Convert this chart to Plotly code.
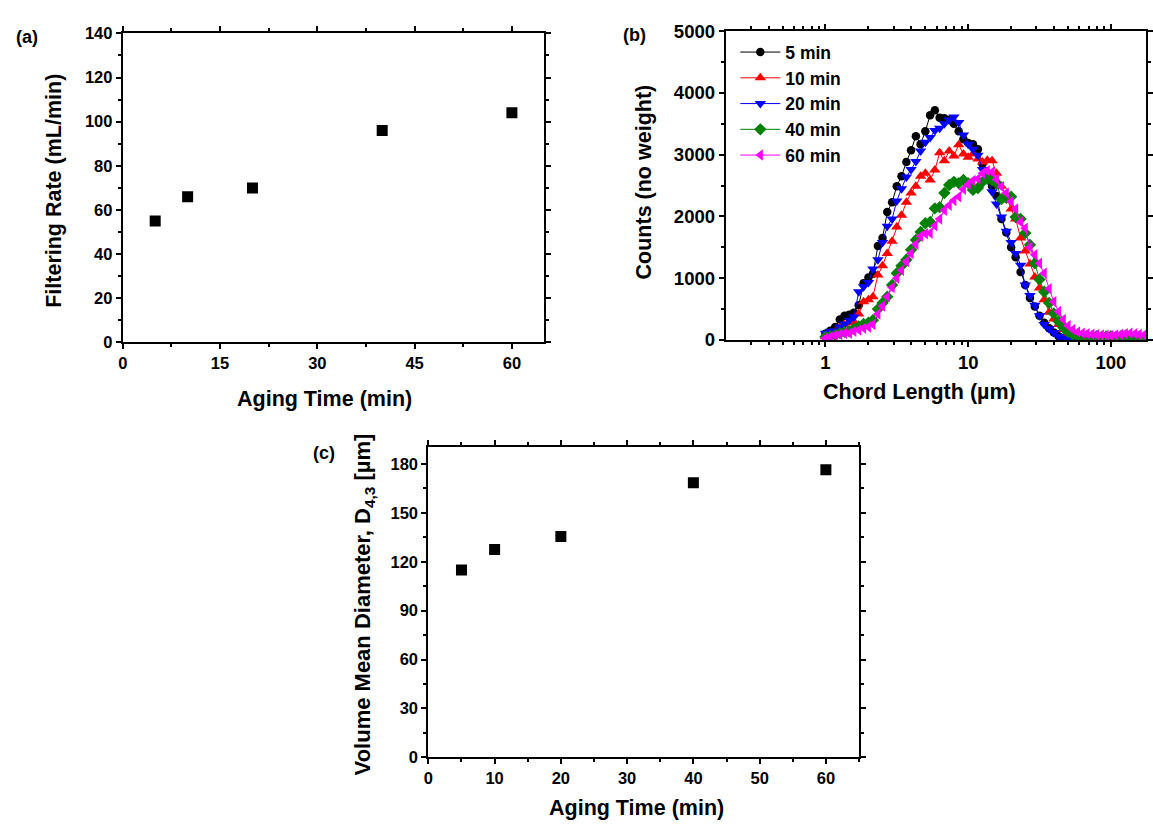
import plotly.graph_objects as go

# ---------------- data ----------------
aging_time = [5, 10, 20, 40, 60]
filtering_rate = [55, 66, 70, 96, 104]
d43_um = [115, 127.5, 135.5, 168.5, 176.5]

chord_length = [1.00, 1.08, 1.17, 1.26, 1.36, 1.47, 1.58, 1.71, 1.85, 2.00,
                2.15, 2.33, 2.51, 2.71, 2.93, 3.16, 3.41, 3.69, 3.98, 4.30,
                4.64, 5.01, 5.41, 5.84, 6.31, 6.81, 7.36, 7.94, 8.58, 9.26,
                10.0, 10.8, 11.7, 12.6, 13.6, 14.7, 15.8, 17.1, 18.5, 20.0,
                21.5, 23.3, 25.1, 27.1, 29.3, 31.6, 34.1, 36.9, 39.8, 43.0,
                46.4, 50.1, 54.1, 58.4, 63.1, 68.1, 73.6, 79.4, 85.8, 92.6,
                100, 108, 117, 126, 136, 147, 158, 171, 185, 200, 215]

counts_5min = [100, 150, 210, 330, 390, 410, 440, 560, 920, 1010,
               1070, 1520, 1650, 2070, 2230, 2490, 2650, 2880, 3070, 3300,
               3170, 3380, 3640, 3720, 3600, 3590, 3560, 3500, 3380, 3250,
               3190, 3170, 3090, 2850, 2700, 2490, 2330, 1960, 1740, 1500,
               1340, 1100, 890, 680, 540, 390, 280, 190, 120, 60,
               25, 12, 8, 5, 5, 4, 6, 3, 5, 4,
               6, 5, 4, 6, 5, 4, 5, 3, 4, 5, 4]
counts_10min = [50, 90, 130, 200, 240, 280, 300, 420, 620, 650,
                700, 1050, 1200, 1400, 1600, 1830, 2020, 2230, 2380, 2490,
                2650, 2700, 2590, 2750, 3030, 2900, 3060, 2980, 3160, 3010,
                2960, 3010, 2930, 2880, 2910, 2900, 2700, 2490, 2330, 2120,
                1960, 1650, 1440, 1230, 1020, 840, 650, 450, 340, 250,
                170, 105, 75, 52, 45, 40, 50, 45, 55, 60,
                50, 55, 60, 70, 65, 55, 60, 50, 45, 40, 40]
counts_20min = [110, 140, 150, 210, 260, 320, 370, 780, 860, 930,
                1150, 1300, 1580, 1840, 1960, 2250, 2450, 2640, 2760, 2890,
                3060, 3200, 3280, 3390, 3430, 3500, 3560, 3610, 3520, 3320,
                3170, 3090, 2990, 2760, 2600, 2400, 2200, 1990, 1760, 1580,
                1400, 1210, 890, 720, 560, 390, 250, 180, 120, 60,
                30, 12, 6, 4, 3, 2, 3, 2, 3, 2,
                3, 2, 3, 2, 2, 3, 2, 3, 2, 2, 2]
counts_40min = [50, 60, 80, 110, 130, 140, 180, 220, 260, 280,
                320, 500, 600, 700, 890, 1080, 1200, 1300, 1460, 1620,
                1750, 1890, 1910, 2130, 2150, 2380, 2510, 2560, 2540, 2590,
                2540, 2430, 2460, 2560, 2610, 2590, 2540, 2280, 2300, 2320,
                1990, 1960, 1730, 1540, 1240, 980, 780, 600, 430, 300,
                200, 130, 90, 70, 60, 65, 55, 60, 50, 55,
                60, 50, 55, 60, 50, 45, 50, 40, 45, 40, 35]
counts_60min = [30, 50, 70, 90, 110, 110, 140, 160, 190, 210,
                250, 420, 550, 700, 850, 1000, 1130, 1270, 1400, 1550,
                1680, 1720, 1730, 1850, 1960, 2100, 2180, 2260, 2320, 2440,
                2520, 2580, 2610, 2700, 2740, 2720, 2600, 2480, 2380, 2240,
                2120, 1910, 1810, 1500, 1380, 1240, 1080, 830, 620, 460,
                330, 230, 170, 130, 110, 100, 90, 85, 80, 75,
                70, 80, 90, 100, 110, 100, 90, 80, 70, 60, 55]

series_names = ["5 min", "10 min", "20 min", "40 min", "60 min"]
series_counts = [counts_5min, counts_10min, counts_20min, counts_40min, counts_60min]
series_colors = ["#000000", "#ff0000", "#0000ff", "#008000", "#ff00ff"]
series_symbols = ["circle", "triangle-up", "triangle-down", "diamond", "triangle-left"]
series_sizes = [8.5, 10, 10, 9.5, 10]

# ---------------- figure ----------------
W, H = 1153, 828
FONT = "Arial, Liberation Sans, Helvetica, sans-serif"

fig = go.Figure()

fig.add_trace(go.Scatter(x=aging_time, y=filtering_rate, mode="markers",
                         marker=dict(symbol="square", size=11, color="black"),
                         xaxis="x", yaxis="y", showlegend=False))

for name, cnt, col, sym, sz in zip(series_names, series_counts, series_colors,
                                   series_symbols, series_sizes):
    fig.add_trace(go.Scatter(x=chord_length, y=cnt, mode="lines+markers", name=name,
                             line=dict(color=col, width=1),
                             marker=dict(symbol=sym, size=sz, color=col, line=dict(width=0)),
                             xaxis="x2", yaxis="y2"))

fig.add_trace(go.Scatter(x=aging_time, y=d43_um, mode="markers",
                         marker=dict(symbol="square", size=11, color="black"),
                         xaxis="x3", yaxis="y3", showlegend=False))


def px_x(p):
    return p / W


def px_y(p):
    return 1 - p / H


def axstyle(size=16):
    return dict(showline=True, linewidth=2, linecolor="black", mirror="allticks",
                ticks="outside", ticklen=5, tickwidth=1.5, tickcolor="black",
                showgrid=False, zeroline=False,
                tickfont=dict(family=FONT, size=size, color="black", weight="bold"))


minor_small = dict(ticks="outside", ticklen=3, tickwidth=1.5, tickcolor="black", showgrid=False)

log_minor = [0.3, 0.4, 0.5, 0.6, 0.7, 0.8, 0.9, 2, 3, 4, 5, 6, 7, 8, 9,
             20, 30, 40, 50, 60, 70, 80, 90, 200]

fig.update_layout(
    width=W, height=H, margin=dict(l=0, r=0, t=0, b=0),
    paper_bgcolor="white", plot_bgcolor="white",
    xaxis=dict(**axstyle(16.5), domain=[px_x(119), px_x(545)], range=[0, 65],
               tickvals=[0, 15, 30, 45, 60], anchor="y",
               minor=dict(**minor_small, dtick=7.5, tick0=0)),
    yaxis=dict(**axstyle(16.5), domain=[px_y(340), px_y(23)], range=[0, 140],
               dtick=20, anchor="x",
               minor=dict(**minor_small, dtick=10, tick0=0)),
    xaxis2=dict(**axstyle(18.5), type="log", domain=[px_x(728.3), 1.0],
                range=[-0.699, 2.246], tickvals=[1, 10, 100], ticktext=["1", "10", "100"],
                anchor="y2",
                minor=dict(**minor_small, tickvals=log_minor)),
    yaxis2=dict(**axstyle(18.5), domain=[px_y(337.5), px_y(20.7)], range=[0, 5000],
                dtick=1000, anchor="x2",
                minor=dict(**minor_small, dtick=500, tick0=0)),
    xaxis3=dict(**axstyle(16.5), domain=[px_x(427.8), px_x(863)], range=[0, 65],
                dtick=10, anchor="y3",
                minor=dict(**minor_small, dtick=5, tick0=0)),
    yaxis3=dict(**axstyle(16.5), domain=[px_y(765.7), px_y(447.3)], range=[0, 190.5],
                tickvals=[0, 30, 60, 90, 120, 150, 180], anchor="x3",
                minor=dict(**minor_small, dtick=15, tick0=0)),
    legend=dict(x=px_x(738), y=px_y(23.8), xanchor="left", yanchor="top",
                bgcolor="rgba(0,0,0,0)", borderwidth=0, itemwidth=40,
                font=dict(family=FONT, size=17.5, color="black", weight="bold"),
                tracegroupgap=0, itemsizing="trace"),
)

ann_font_lab = dict(family=FONT, size=18, color="black", weight="bold")


def title_font(sz):
    return dict(family=FONT, size=sz, color="black", weight="bold")


annotations = [
    # panel labels
    dict(text="(a)", x=px_x(9), y=px_y(26.7), xanchor="left", yanchor="middle", font=ann_font_lab),
    dict(text="(b)", x=px_x(622.8), y=px_y(25), xanchor="left", yanchor="middle", font=ann_font_lab),
    dict(text="(c)", x=px_x(335), y=px_y(453.5), xanchor="right", yanchor="middle", font=ann_font_lab),
    # axis titles (a)
    dict(text="Aging Time (min)", x=px_x(323), y=px_y(398), xanchor="center", yanchor="middle",
         font=title_font(21.5)),
    dict(text="Filtering Rate (mL/min)", x=px_x(50), y=px_y(184), xanchor="center", yanchor="middle",
         textangle=-90, font=title_font(21.5)),
    # (b)
    dict(text="Chord Length (µm)", x=px_x(924.6), y=px_y(391), xanchor="center", yanchor="middle",
         font=title_font(21.5)),
    dict(text="Counts (no weight)", x=px_x(645.6), y=px_y(175), xanchor="center", yanchor="middle",
         textangle=-90, font=title_font(21.5)),
    # (c)
    dict(text="Aging Time (min)", x=px_x(637.8), y=px_y(818), xanchor="center", yanchor="middle",
         font=title_font(21.5)),
    dict(text="Volume Mean Diameter, D<sub>4,3</sub> [µm]", x=px_x(362.6), y=px_y(609),
         xanchor="center", yanchor="middle", textangle=-90, font=title_font(22)),
]
for a in annotations:
    a.update(xref="paper", yref="paper", showarrow=False)
fig.update_layout(annotations=annotations)

fig.write_html("out.html", post_script="document.body.style.margin='0px';")
